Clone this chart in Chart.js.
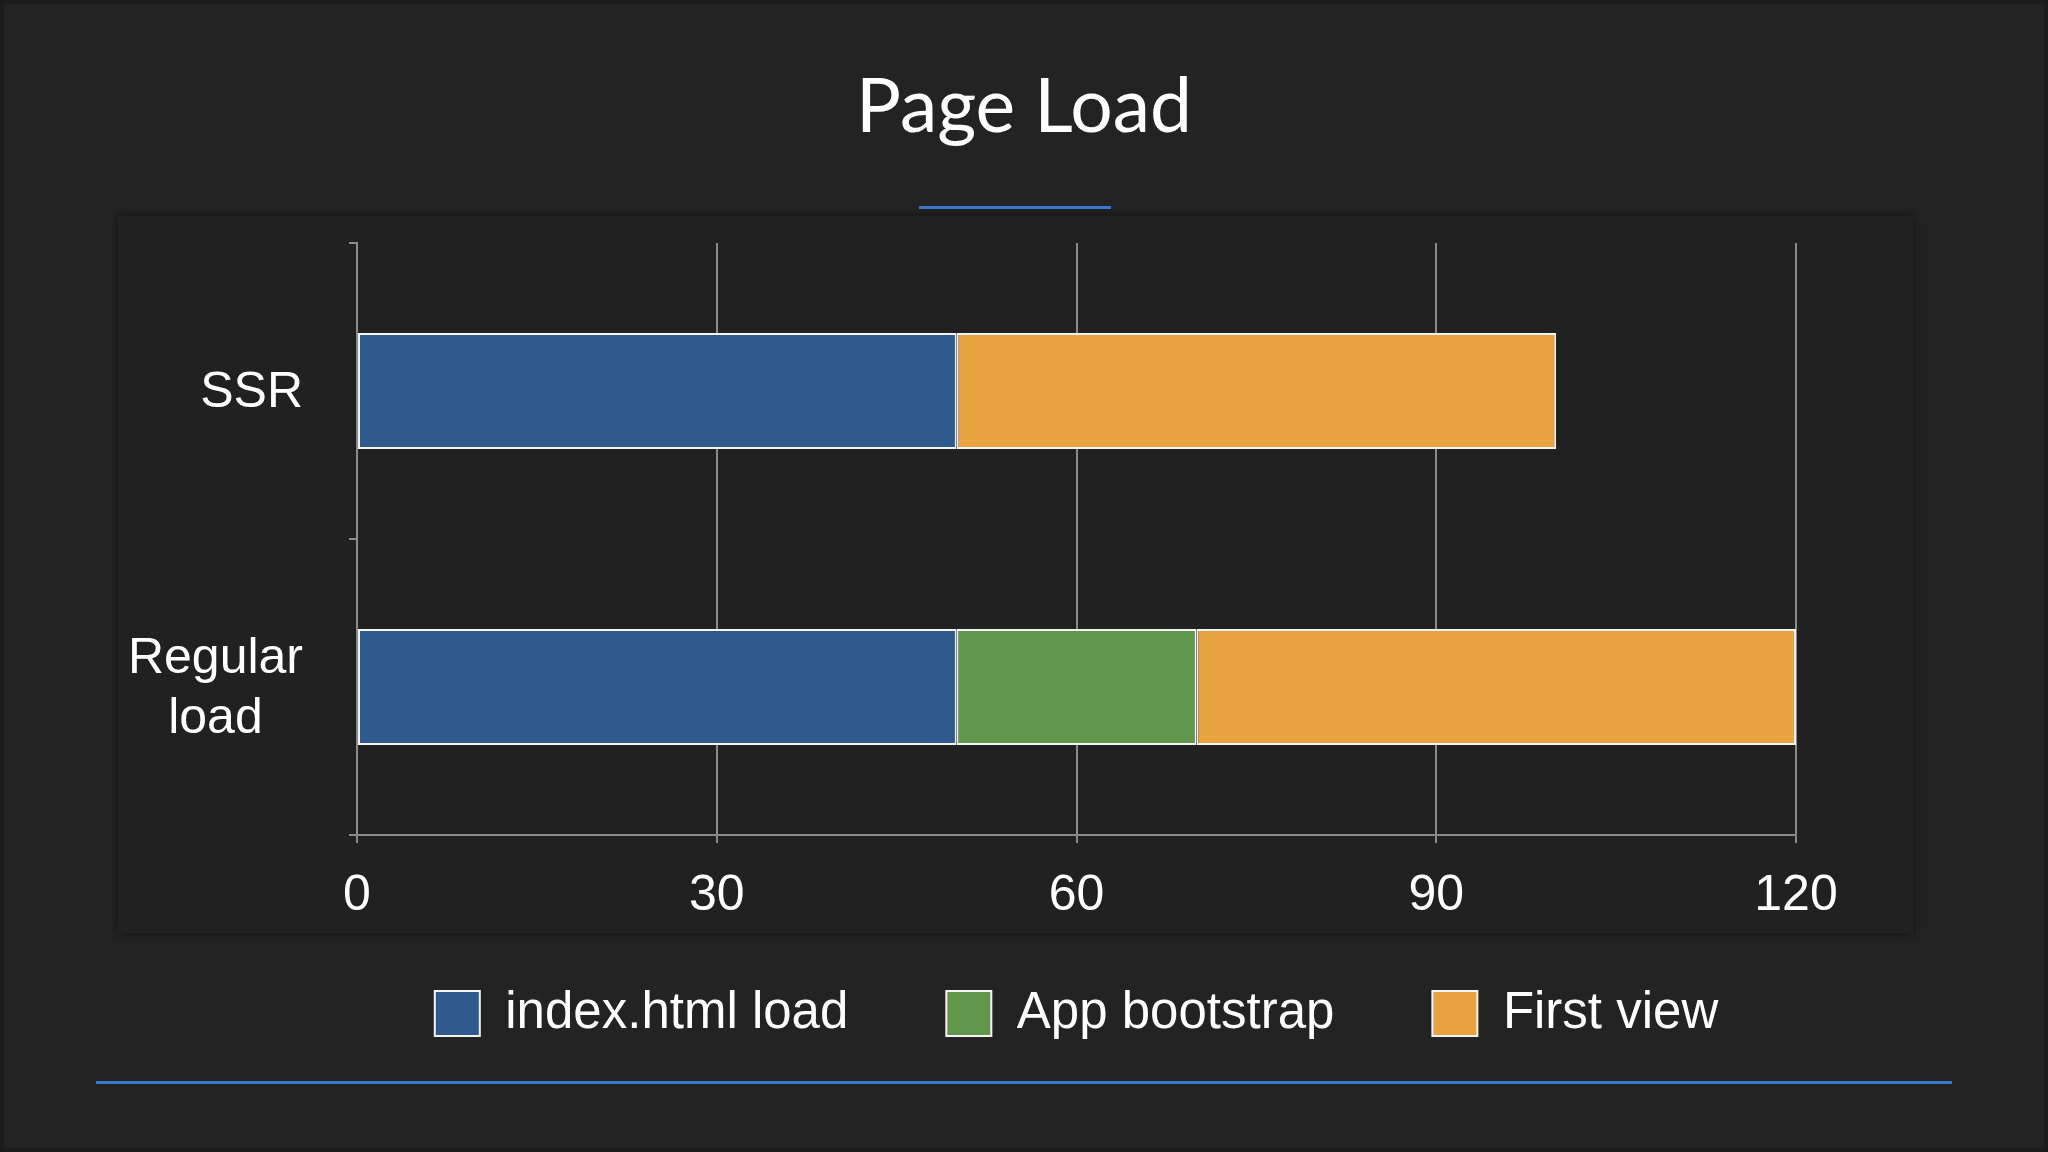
<!DOCTYPE html>
<html>
<head>
<meta charset="utf-8">
<title>Page Load</title>
<script src="https://cdn.jsdelivr.net/npm/chart.js@4.4.1/dist/chart.umd.min.js"></script>
<style>
    html, body { margin: 0; padding: 0; background: #232323; }
    #wrap { width: 2048px; height: 1152px; }
</style>
</head>
<body>
<div id="wrap"><canvas id="chart" width="2048" height="1152"></canvas></div>
<script>
// ===== Data =====
const CATEGORIES = ['SSR', ['Regular', 'load']];
const INDEX_LOAD = [50, 50];
const APP_BOOTSTRAP = [0, 20];
const FIRST_VIEW = [50, 50];
const X_TICKS = [0, 30, 60, 90, 120];

const SERIES_COLORS = ['#2e5a8d', '#60974b', '#e8a33f'];
const GRID = '#8a8a8a';
const TEXT = '#ffffff';
const SANS = "'Liberation Sans', Arial, sans-serif";

// Slide background, darker panel behind the plot and the two blue rules
const slideFrame = {
    id: 'slideFrame',
    beforeDraw(chart) {
        const { ctx, width, height, chartArea: a } = chart;
        ctx.save();
        ctx.fillStyle = '#232323';
        ctx.fillRect(0, 0, width, height);
        ctx.strokeStyle = '#1b1b1b';
        ctx.lineWidth = 8;
        ctx.strokeRect(0, 0, width, height);

        ctx.shadowColor = 'rgba(0, 0, 0, 0.55)';
        ctx.shadowBlur = 10;
        ctx.fillStyle = '#212121';
        ctx.fillRect(a.left - 239, a.top - 27, a.width + 356, a.height + 125);
        ctx.shadowColor = 'transparent';

        ctx.fillStyle = '#3a78cf';
        ctx.fillRect(919, 206, 192, 3);
        ctx.fillRect(96, 1081, 1856, 3);
        ctx.restore();
    }
};

// Category labels: block right-aligned to the axis, lines centred inside the block
const categoryLabels = {
    id: 'categoryLabels',
    afterDraw(chart) {
        const { ctx } = chart;
        const y = chart.scales.y;
        const right = y.right - 8 - 46;
        const lineHeight = 60;
        ctx.save();
        ctx.font = '50px ' + SANS;
        ctx.fillStyle = TEXT;
        ctx.textAlign = 'center';
        ctx.textBaseline = 'middle';
        chart.data.labels.forEach((label, i) => {
            const lines = [].concat(label);
            const w = Math.max(...lines.map(l => ctx.measureText(l).width));
            const cy = y.getPixelForTick(i) + 2;
            lines.forEach((line, j) => {
                ctx.fillText(line, right - w / 2, cy + (j - (lines.length - 1) / 2) * lineHeight);
            });
        });
        ctx.restore();
    }
};

// The legend row is wider than the plot; let it overhang both sides equally
// and sit a bit closer to the panel than the stacked layout allows
const wideLegend = {
    id: 'wideLegend',
    afterLayout(chart) {
        const lg = chart.legend;
        const extra = 140;
        const lift = 31;
        lg.left -= extra;
        lg.right += extra;
        lg.width += 2 * extra;
        lg.top -= lift;
        lg.bottom -= lift;
        lg.maxWidth = lg.width;
        lg.fit();
    }
};

const datasets = [
    { label: 'index.html load', data: INDEX_LOAD },
    { label: 'App bootstrap', data: APP_BOOTSTRAP },
    { label: 'First view', data: FIRST_VIEW }
].map((ds, i) => ({
    ...ds,
    backgroundColor: SERIES_COLORS[i],
    borderColor: '#f4f4f4',
    borderWidth: 2,
    borderSkipped: false,
    barPercentage: 0.49,
    categoryPercentage: 0.8
}));

new Chart(document.getElementById('chart'), {
    type: 'bar',
    data: { labels: CATEGORIES, datasets },
    plugins: [slideFrame, categoryLabels, wideLegend],
    options: {
        responsive: false,
        animation: false,
        indexAxis: 'y',
        layout: { padding: { left: 252, right: 252, top: 0, bottom: 72 } },
        plugins: {
            title: {
                display: true,
                text: 'Page Load',
                color: TEXT,
                font: { family: 'Lato', size: 75, weight: 'normal', lineHeight: 1.2 },
                padding: { top: 63, bottom: 90 }
            },
            legend: {
                position: 'bottom',
                fullSize: false,
                maxHeight: 159,
                labels: {
                    color: TEXT,
                    font: { family: SANS, size: 51 },
                    boxWidth: 45,
                    boxHeight: 45,
                    padding: 98
                }
            },
            tooltip: { enabled: false }
        },
        scales: {
            x: {
                stacked: true,
                min: 0,
                max: 120,
                afterBuildTicks: scale => { scale.ticks = X_TICKS.map(v => ({ value: v })); },
                afterFit: scale => { scale.height = 86; },
                grid: { color: GRID, lineWidth: 2, tickLength: 8, drawTicks: true },
                border: { color: GRID, width: 2 },
                ticks: { color: TEXT, font: { family: SANS, size: 50 }, padding: 23, maxRotation: 0 }
            },
            y: {
                stacked: true,
                afterFit: scale => { scale.width = 105; },
                grid: { color: GRID, lineWidth: 2, tickLength: 8, drawOnChartArea: false, offset: true },
                border: { color: GRID, width: 2 },
                ticks: { display: false }
            }
        }
    }
});
</script>
</body>
</html>
